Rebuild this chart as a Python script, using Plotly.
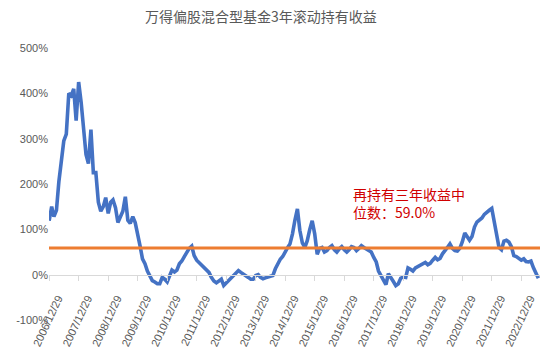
import pandas as pd
import plotly.graph_objects as go

title_text = "万得偏股混合型基金3年滚动持有收益"
start_date = "2006-12-31"
# monthly 3-year rolling holding returns (%)
returns = [
    119, 150, 128, 142, 205, 260, 295, 310, 400, 395,
    410, 340, 425, 380, 320, 265, 245, 320, 225, 225,
    160, 140, 150, 170, 135, 160, 165, 148, 115, 128,
    140, 172, 120, 113, 128, 115, 92, 62, 35, 24,
    8, -2, -13, -16, -20, -20, -6, -10, -16, -2,
    10, 6, 10, 24, 30, 40, 50, 58, 63, 42,
    32, 27, 20, 16, 10, 5, -6, -14, -18, -14,
    -10, -24, -18, -12, -6, 0, 4, 9, 5, 2,
    -2, -6, -10, -10, -2, 0, -6, -9, -7, -5,
    -4, -2, 13, 25, 34, 40, 52, 60, 68, 90,
    120, 145, 98, 70, 60, 75, 100, 119, 90, 45,
    58, 60, 50, 53, 60, 64, 55, 50, 57, 62,
    55, 50, 55, 62, 60, 53, 58, 64, 60, 57,
    55, 50, 38, 28, 8, -3, -15, -22, 2, -5,
    -15, -24, -20, -8, -5, -6, 15, 12, 8, 15,
    18, 20, 23, 27, 22, 25, 32, 38, 33, 36,
    46, 52, 60, 68, 58, 53, 52, 58, 72, 92,
    85, 76, 84, 105, 116, 120, 125, 133, 139, 142,
    146, 119, 85, 60, 55, 74, 76, 72, 62, 42,
    40, 36, 32, 35, 29, 28, 30, 15, 5, -8,
]
dates = pd.date_range(start_date, periods=len(returns), freq="ME")
median_value = 59.0
tick_years = list(range(2006, 2023))
tick_vals = [f"{y}-12-29" for y in tick_years]
tick_text = [f"{y}/12/29" for y in tick_years]
y_ticks = [-100, 0, 100, 200, 300, 400, 500]
note_text = "再持有三年收益中<br>位数：59.0%"

fig = go.Figure()
fig.add_trace(go.Scatter(
    x=dates, y=returns, mode="lines",
    line=dict(color="#4472C4", width=3.6),
    showlegend=False, hoverinfo="skip",
))
fig.add_shape(type="line", xref="paper", x0=0, x1=1, yref="y",
              y0=median_value, y1=median_value,
              line=dict(color="#ED7D31", width=3), layer="above")

fig.add_annotation(
    x="2017-03-25", y=204, xref="x", yref="y",
    text=note_text, showarrow=False, xanchor="left", yanchor="top",
    align="left",
    font=dict(family="Noto Sans CJK SC", size=14, color="#D00000"),
)

fig.update_layout(
    width=554, height=354,
    margin=dict(l=49, r=14, t=48, b=34),
    paper_bgcolor="white", plot_bgcolor="white",
    title=dict(text=title_text, x=0.471, xref="container", xanchor="center",
               y=0.952, yref="container", yanchor="middle",
               font=dict(family="Noto Sans CJK SC", size=14, color="#595959")),
    font=dict(family="Liberation Sans", size=11, color="#595959"),
)
fig.update_xaxes(
    type="date", range=["2006-12-29", "2023-08-20"],
    tickvals=tick_vals, ticktext=tick_text, tickangle=-65,
    anchor="free", position=1/6, automargin=False,
    showline=True, linecolor="#D9D9D9", linewidth=1,
    ticks="outside", ticklen=5, tickcolor="#D9D9D9",
    ticklabelstandoff=7, ticklabelshift=9,
    showgrid=False, zeroline=False,
    tickfont=dict(family="Liberation Sans", size=11, color="#595959"),
)
fig.update_yaxes(
    range=[-100, 500], tickvals=y_ticks, automargin=False,
    ticktext=[f"{v}%" for v in y_ticks],
    showgrid=False, zeroline=False, showline=False,
    tickfont=dict(family="Liberation Sans", size=11, color="#595959"),
)
fig.write_html("out.html")
